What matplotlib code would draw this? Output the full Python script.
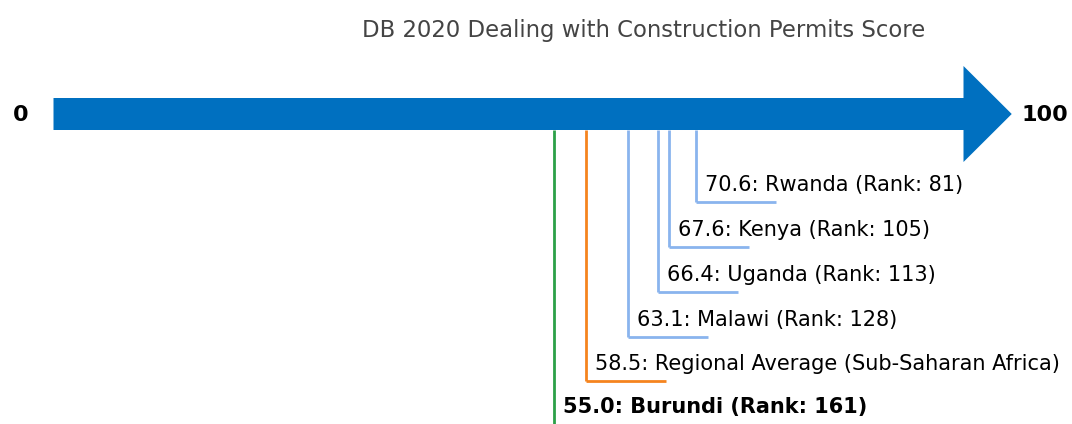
import matplotlib
matplotlib.use("Agg")
import matplotlib.pyplot as plt
from matplotlib.patches import Polygon

title = "DB 2020 Dealing with Construction Permits Score"
names = ["Burundi", "Regional Average (Sub-Saharan Africa)", "Malawi", "Uganda", "Kenya", "Rwanda"]
scores = [55.0, 58.5, 63.1, 66.4, 67.6, 70.6]
ranks = [161, None, 128, 113, 105, 81]
levels = [407, 381, 337, 292, 247, 202]  # vertical end of each leader line (px from top)

arrow_blue = "#0070C0"
light_blue = "#8AB4EE"
orange = "#F5841F"
green = "#2CA048"

fig = plt.figure(figsize=(10.72, 4.24), dpi=100)
ax = fig.add_axes([0, 0, 1, 1])
px = 9.1  # pixels per score point
ax.set_xlim(-53.5 / px, (1072 - 53.5) / px)
ax.set_ylim(424, 0)
ax.axis("off")

# the big arrow
shaft = Polygon([(0, 98), (100, 98), (100, 66), (105.3, 114), (100, 162), (100, 130), (0, 130)],
                closed=True, facecolor=arrow_blue, edgecolor="none", zorder=3)
ax.add_patch(shaft)
ax.text(-3.6, 115, "0", ha="center", va="center", fontsize=16, fontweight="bold")
ax.text(106.4, 115, "100", ha="left", va="center", fontsize=16, fontweight="bold")

ax.text(64.9, 30, title, ha="center", va="center", fontsize=16.4, color="#444444")

for name, score, rank, y in zip(names, scores, ranks, levels):
    if name == "Burundi":
        color, weight, y_end = green, "bold", 424
    elif rank is None:
        color, weight, y_end = orange, "normal", y
    else:
        color, weight, y_end = light_blue, "normal", y
    ax.plot([score, score], [130, y_end], color=color, lw=2, zorder=2, solid_capstyle="butt")
    if name != "Burundi":
        ax.plot([score, score + 8.8], [y, y], color=color, lw=2, zorder=2, solid_capstyle="butt")
        ty = y - 17
    else:
        ty = y
    label = f"{score:.1f}: {name}" + (f" (Rank: {rank})" if rank is not None else "")
    ax.text(score + 1.0, ty, label, ha="left", va="center", fontsize=15, fontweight=weight)

fig.savefig("out.png", dpi=100)
